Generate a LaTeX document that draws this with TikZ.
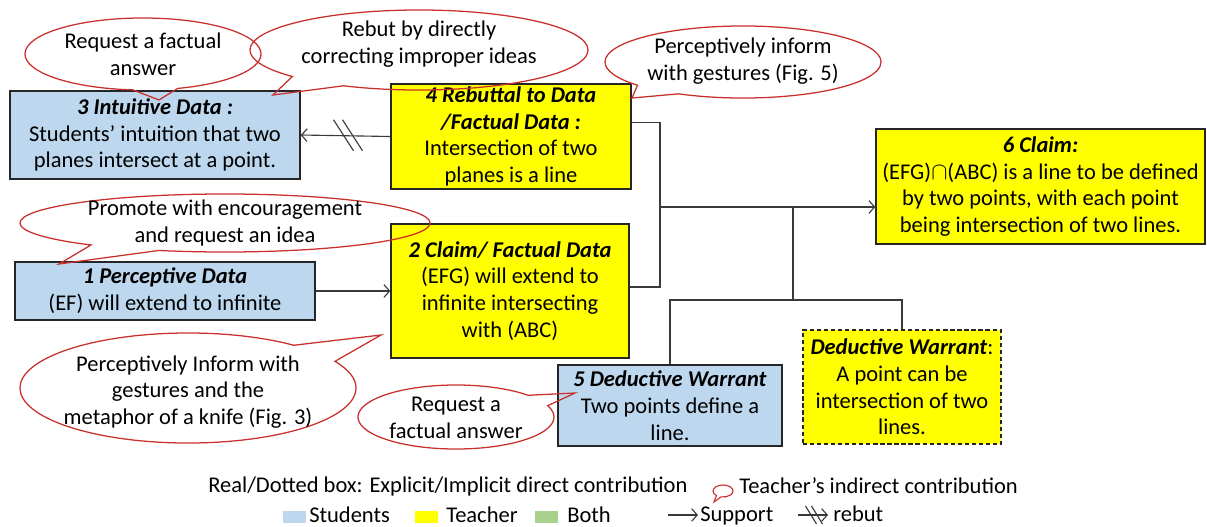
\documentclass[tikz,border=0pt]{standalone}
\usepackage{fontspec}
\setmainfont{Carlito}
\usepackage{tikz}
\usetikzlibrary{calc,shapes.callouts,arrows.meta}
\definecolor{studblue}{HTML}{BDD7EE}
\definecolor{teachyellow}{HTML}{FFFF00}
\definecolor{bothgreen}{HTML}{A9D18E}
\definecolor{bubred}{HTML}{C9302C}
\definecolor{boxline}{HTML}{262626}
\definecolor{linkgray}{HTML}{3A3A3A}
\newcommand{\hd}[1]{\textbf{\textit{#1}}}

\begin{document}
\begin{tikzpicture}[
        x=0.025cm, y=-0.025cm,
        txt/.style={font=\fontsize{16}{19}\selectfont, align=center, inner sep=0pt},
        box/.style={txt, draw=boxline, line width=0.9pt, inner sep=1pt},
        stud/.style={box, fill=studblue},
        teach/.style={box, fill=teachyellow},
        bubble/.style={ellipse callout, draw=bubred, line width=0.9pt,
                       callout pointer arc=22, inner sep=0pt},
        link/.style={draw=linkgray, line width=0.8pt},
        supp/.style={link, -{Straight Barb[length=4pt,width=9pt]}},
        swatch/.style={minimum width=0.575cm, minimum height=0.3cm, inner sep=0pt},
      ]
      \useasboundingbox (0,0) rectangle (1207,526);

      % Argument boxes
      \node[stud, minimum width=7.25cm, minimum height=2.2cm] (intuit) at (155,135)
        {\hd{3 Intuitive Data :}\\Students’ intuition that two\\planes intersect at a point.};
      \node[teach, minimum width=6cm, minimum height=2.625cm] (rebut) at (511,136.5)
        {\hd{4 Rebuttal to Data}\\\hd{/Factual Data :}\\Intersection of two\\planes is a line};
      \node[teach, minimum width=8.225cm, minimum height=2.875cm] (claim) at (1040.5,186.5)
        {\hd{6 Claim:}\\(EFG)$\cap$(ABC) is a line to be defined\\by two points, with each point\\being intersection of two lines.};
      \node[stud, minimum width=7.5cm, minimum height=1.45cm] (percep) at (165,291)
        {\hd{1 Perceptive Data}\\(EF) will extend to infinite};
      \node[teach, minimum width=5.95cm, minimum height=3.35cm] (factual) at (510,291)
        {\hd{2 Claim/ Factual Data}\\(EFG) will extend to\\infinite intersecting\\with (ABC)};
      \node[stud, minimum width=5.6cm, minimum height=2.025cm, inner sep=0.5pt] (warrant) at (670,405.5)
        {\hd{5 Deductive Warrant}\\Two points define a\\line.};
      \node[teach, dash pattern=on 3pt off 2pt, minimum width=4.95cm, minimum height=2.85cm] (implicit) at (902,387)
        {\hd{Deductive Warrant}:\\A point can be\\intersection of two\\lines.};

      % Rebuttal with the two cross strokes
      \draw[supp] (rebut.west) -- (intuit.east) coordinate[pos=0.5] (cut);
      \draw[link] ([shift={(-12,-16)}]cut) -- ++(20,31);
      \draw[link] ([shift={(-3,-16)}]cut) -- ++(20,31);

      % Support
      \draw[supp] (percep.east) -- (factual.west);
      \coordinate (join) at (660,207);
      \draw[link] ($(rebut.north east)!0.37!(rebut.south east)$) -| (join);
      \draw[link] ($(factual.north east)!0.47!(factual.south east)$) -| (join);
      \draw[supp] (join) -- (join -| claim.west);

      % Warrants
      \coordinate (wtop) at (793,207);
      \coordinate (wbar) at (793,300);
      \draw[link] (wtop) -- (wbar);
      \draw[link] (warrant.north) |- (wbar) -| (implicit.north);

      % Teacher's callouts
      \coordinate (tipA) at (159,100);
      \coordinate (tipB) at (273,95);
      \coordinate (tipC) at (632,98);
      \coordinate (tipD) at (59,264);
      \coordinate (tipE) at (381,335);
      \coordinate (tipF) at (575,393);
      \node[bubble, minimum width=5.9cm, minimum height=1.8cm, callout absolute pointer=(tipA)] (askA) at (143,54) {};
      \node[txt] (askAtext) at (143,54) {Request a factual\\answer};
      \node[bubble, minimum width=8.45cm, minimum height=2cm, callout absolute pointer=(tipB)] (correct) at (419,50) {};
      \node[txt] (correcttext) at (419,44) {Rebut by directly\\correcting improper ideas};
      \node[bubble, minimum width=6.9cm, minimum height=1.8cm, callout absolute pointer=(tipC)] (gestC) at (743,62) {};
      \node[txt] (gestCtext) at (743,61) {Perceptively inform\\with gestures (Fig. 5)};
      \node[bubble, minimum width=10.25cm, minimum height=1.45cm, callout absolute pointer=(tipD)] (promote) at (225,223) {};
      \node[txt] (promotetext) at (225,223) {Promote with encouragement\\and request an idea};
      \node[bubble, minimum width=8.4cm, minimum height=2.75cm, callout absolute pointer=(tipE)] (knife) at (188,388) {};
      \node[txt] (knifetext) at (188,392) {Perceptively Inform with\\gestures and the\\metaphor of a knife (Fig. 3)};
      \node[bubble, minimum width=4.9cm, minimum height=1.6cm, callout absolute pointer=(tipF)] (askF) at (456,417) {};
      \node[txt] (askFtext) at (456,418) {Request a\\factual answer};

      % Legend
      \node[txt, anchor=base west] (legbox) at (208,492) {Real/Dotted box: Explicit/Implicit direct contribution};
      \coordinate (tipL) at (714,502);
      \node[bubble, line width=0.8pt, callout pointer arc=30, minimum width=0.5cm, minimum height=0.3cm, callout absolute pointer=(tipL)] (legbub) at (723,491) {};
      \node[txt, anchor=base west] (legteach) at (739,493) {Teacher’s indirect contribution};
      \node[swatch, fill=studblue] (swS) at (294.5,517) {};
      \node[txt, anchor=base west] (legS) at (309,522) {Students};
      \node[swatch, fill=teachyellow] (swT) at (426,517) {};
      \node[txt, anchor=base west] (legT) at (446,522) {Teacher};
      \node[swatch, fill=bothgreen] (swB) at (546,517) {};
      \node[txt, anchor=base west] (legB) at (567,522) {Both};
      \coordinate (s0) at (668,515);
      \coordinate (s1) at (698,515);
      \draw[supp] (s0) -- (s1);
      \node[txt, anchor=base west] (legsupp) at (700,521) {Support};
      \coordinate (r0) at (798,515);
      \coordinate (r1) at (828,515);
      \draw[supp] (r0) -- (r1) coordinate[pos=0.45] (rcut);
      \draw[link] ([shift={(-6,-9)}]rcut) -- ++(11,18);
      \draw[link] ([shift={(0,-9)}]rcut) -- ++(11,18);
      \node[txt, anchor=base west] (legrebut) at (833,521) {rebut};
    \end{tikzpicture}
\end{document}
